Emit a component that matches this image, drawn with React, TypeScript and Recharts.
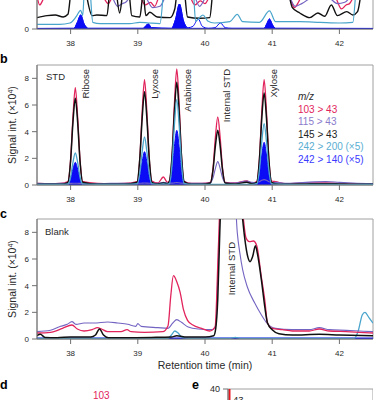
import React from 'react'
import { ComposedChart, Line, Area, Bar, XAxis, YAxis, ReferenceArea } from 'recharts'

const FONT = '"Liberation Sans", Arial, Helvetica, sans-serif'
const RED = '#e2245c'
const PURPLE = '#7464c2'
const BLACK = '#111111'
const LIGHT_BLUE = '#4aa5cc'
const BLUE = '#0b0bf5'
const INK = '#2a2a2a'
const AXIS = '#707070'
const FRAME = '#a0a0a0'

// retention time axis (min)
const timeTicks = [38, 39, 40, 41, 42]
const signalTicks = [0, 2, 4, 6, 8]

const legendTitle = 'm/z'
const legendLabels = ['103 > 43', '115 > 43', '145 > 43', '242 > 200 (×5)', '242 > 140 (×5)']
const legendColors = [RED, '#8a7ccc', '#222222', '#5aaed2', '#3b3bff']

const peakNames = ['Ribose', 'Lyxose', 'Arabinose', 'Internal STD', 'Xylose']

// ---- panel a (sample, only the foot of the traces is visible) : [time, signal x10^4]
const aBlack = [[37.5,0.85],[37.65,1.0],[37.77,1.05],[37.89,0.9],[37.96,1.1],[38.02,3.2],[38.18,3.4],[38.32,1.0],[38.39,1.05],[38.54,1.0],[38.59,3.0],[38.66,3.2],[38.73,1.2],[38.79,3.0],[38.86,3.0],[38.91,1.0],[39.03,0.9],[39.08,2.6],[39.12,1.0],[39.18,1.25],[39.29,0.9],[39.48,0.85],[39.55,1.5],[39.6,3.2],[39.68,3.2],[39.74,0.9],[39.92,0.8],[40.07,0.85],[40.13,3.2],[41.2,3.4],[41.3,1.6],[41.41,1.2],[41.56,0.85],[41.68,1.2],[41.78,0.95],[41.88,1.8],[41.97,1.0],[42.11,1.3],[42.2,1.05],[42.27,1.3],[42.35,3.2],[42.5,3.4]]
const aRed = [[37.5,2.5],[37.54,1.8],[37.6,2.3],[37.7,3.0],[38.45,3.0],[38.51,2.2],[38.56,1.9],[38.62,2.4],[38.7,3.0],[38.98,3.0],[39.04,2.4],[39.11,1.8],[39.19,2.0],[39.25,1.7],[39.32,2.5],[39.38,3.0],[39.72,3.0],[39.78,2.4],[39.85,1.8],[39.93,2.1],[40.0,1.9],[40.07,2.5],[40.12,3.0],[41.2,3.0],[41.26,2.4],[41.33,1.6],[41.39,2.0],[41.45,2.6],[41.55,3.0],[41.88,2.9],[41.95,2.3],[42.03,1.5],[42.1,1.8],[42.15,1.9],[42.22,2.5],[42.3,3.0],[42.5,2.6]]
const aPurple = [[37.5,2.6],[37.6,3.0],[38.55,3.0],[38.61,2.5],[38.7,1.7],[38.77,1.9],[38.82,2.0],[38.91,2.6],[38.98,3.0],[39.08,2.8],[39.14,2.2],[39.22,1.6],[39.33,1.7],[39.42,2.5],[39.5,3.0],[39.8,3.0],[39.85,2.4],[39.92,1.7],[40.01,2.4],[40.08,3.0],[41.2,3.0],[41.26,2.4],[41.34,1.7],[41.44,1.9],[41.56,2.3],[41.7,2.8],[41.86,2.3],[41.97,1.9],[42.08,2.0],[42.18,2.5],[42.3,3.0],[42.5,2.6]]
const aLightBlue = [[37.5,0.35],[37.84,0.35],[37.99,0.45],[38.08,0.9],[38.15,1.4],[38.18,1.0],[38.21,3.2],[38.28,3.2],[38.33,0.5],[38.44,0.4],[38.88,0.4],[39.03,0.5],[39.16,0.45],[39.33,0.4],[39.4,3.2],[39.82,3.2],[39.86,0.6],[39.97,1.05],[40.04,0.6],[40.14,0.45],[40.37,0.55],[40.48,1.1],[40.56,0.55],[40.81,0.5],[40.96,1.35],[41.05,0.55],[41.41,0.55],[41.71,0.5],[42.0,0.45],[42.2,0.5],[42.26,3.2],[42.5,3.2]]
const aBlue = [[37.5,0.04],[38.05,0.05],[38.1,0.5],[38.15,1.05],[38.2,0.4],[38.26,0.05],[39.08,0.05],[39.13,0.3],[39.16,0.37],[39.2,0.1],[39.5,0.05],[39.56,0.7],[39.62,1.87],[39.68,0.6],[39.75,0.1],[39.82,0.2],[39.9,0.75],[39.96,0.2],[40.05,0.05],[40.15,0.1],[40.23,0.45],[40.3,0.1],[40.4,0.05],[40.88,0.05],[40.92,0.4],[40.96,0.75],[41.0,0.35],[41.05,0.05],[42.5,0.04]]
// shaded (integrated) part of the 242 > 140 trace
const aBlueFill = [[37.5,0.04],[38.05,0.05],[38.1,0.5],[38.15,1.05],[38.2,0.4],[38.26,0.05],[39.08,0.05],[39.13,0.3],[39.16,0.37],[39.2,0.1],[39.5,0.05],[39.56,0.7],[39.62,1.87],[39.68,0.6],[39.75,0.05],[40.88,0.05],[40.92,0.4],[40.96,0.75],[41.0,0.35],[41.05,0.05],[42.5,0.04]]

// ---- panel b (standards), shared time grid
const bTimes = [37.5,37.7,37.85, 37.96,38.0,38.035,38.07,38.105,38.14,38.18, 38.4,38.6,38.8, 38.99,39.03,39.065,39.1,39.135,39.17,39.21, 39.3,39.38,39.44, 39.47,39.51,39.545,39.58,39.615,39.65,39.69, 39.8,39.95, 40.08,40.12,40.155,40.19,40.225,40.26,40.3, 40.45,40.62,40.7, 40.77,40.81,40.845,40.88,40.915,40.95,40.99, 41.05,41.2,41.5,41.8,42.0,42.2,42.5]
const bRed = [0.12,0.1,0.12, 0.25,1.9,5.1,7.3,5.1,1.9,0.25, 0.12,0.1,0.12, 0.25,2.0,5.5,7.9,5.5,2.0,0.3, 0.15,0.6,0.2, 0.3,2.2,6.1,8.7,6.1,2.2,0.25, 0.12,0.12, 0.2,1.3,3.6,5.1,3.6,1.3,0.2, 0.15,0.3,0.15, 0.25,2.0,5.5,7.9,5.5,2.0,0.3, 0.25,0.1,0.15,0.15,0.12,0.1,0.1]
const bPurple = [0.12,0.1,0.12, 0.12,0.12,0.13,0.13,0.13,0.12,0.12, 0.1,0.12,0.12, 0.12,0.13,0.14,0.15,0.14,0.13,0.12, 0.12,0.2,0.15, 0.13,0.14,0.16,0.18,0.16,0.14,0.13, 0.12,0.12, 0.15,0.55,1.25,1.75,1.25,0.55,0.15, 0.15,0.3,0.2, 0.18,0.25,0.35,0.4,0.35,0.25,0.18, 0.2,0.12,0.2,0.25,0.2,0.15,0.1]
const bBlack = [0.05,0.05,0.05, 0.2,1.8,4.7,6.5,4.7,1.8,0.2, 0.05,0.05,0.05, 0.2,2.0,5.0,7.0,5.0,2.0,0.2, 0.08,0.15,0.1, 0.25,2.2,5.5,7.7,5.5,2.2,0.25, 0.05,0.05, 0.15,1.15,2.95,4.1,2.95,1.15,0.15, 0.08,0.2,0.1, 0.2,1.9,5.0,6.9,5.0,1.9,0.2, 0.1,0.05,0.08,0.1,0.08,0.05,0.05]
const bLightBlue = [0.05,0.05,0.05, 0.06,0.6,1.7,2.4,1.7,0.6,0.06, 0.05,0.05,0.05, 0.08,0.9,2.5,3.6,2.5,0.9,0.08, 0.05,0.08,0.06, 0.1,1.6,4.5,6.4,4.5,1.6,0.1, 0.05,0.05, 0.05,0.05,0.05,0.05,0.05,0.05,0.05, 0.05,0.05,0.05, 0.08,1.15,3.25,4.6,3.25,1.15,0.08, 0.06,0.05,0.05,0.05,0.05,0.05,0.05]
const bBlue = [0.02,0.02,0.02, 0.03,0.42,1.2,1.7,1.2,0.42,0.03, 0.02,0.02,0.02, 0.03,0.62,1.75,2.5,1.75,0.62,0.03, 0.02,0.02,0.02, 0.05,1.0,2.9,4.1,2.9,1.0,0.05, 0.02,0.02, 0.02,0.02,0.02,0.02,0.02,0.02,0.02, 0.02,0.02,0.02, 0.04,0.8,2.25,3.2,2.25,0.8,0.04, 0.02,0.02,0.02,0.02,0.02,0.02,0.02]

// ---- panel c (blank)
const cRed = [[37.5,0.45],[37.7,0.5],[37.88,0.8],[38.02,1.05],[38.1,0.75],[38.2,0.6],[38.32,0.7],[38.4,0.85],[38.46,0.75],[38.55,0.55],[38.75,0.55],[38.84,0.7],[38.9,0.55],[39.1,0.5],[39.37,0.55],[39.45,1.0],[39.49,3.2],[39.53,4.75],[39.58,4.3],[39.63,3.5],[39.68,2.2],[39.74,1.4],[39.82,1.05],[39.95,0.8],[40.07,0.6],[40.15,0.9],[40.2,7],[40.25,13],[40.5,12],[40.56,9.5],[40.61,7.6],[40.66,7.3],[40.72,7.35],[40.77,7.0],[40.84,4.6],[40.89,2.9],[40.93,1.2],[41.0,0.8],[41.15,0.7],[41.3,0.6],[41.55,0.6],[41.7,0.75],[41.85,0.6],[42.1,0.55],[42.3,0.5],[42.5,0.45]]
const cPurple = [[37.5,0.55],[37.7,0.65],[37.85,0.95],[37.95,1.1],[38.02,1.3],[38.08,1.1],[38.2,1.2],[38.35,1.2],[38.55,1.28],[38.7,1.2],[38.85,1.1],[38.97,0.95],[39.0,1.15],[39.05,0.95],[39.3,0.85],[39.45,0.8],[39.52,1.2],[39.58,1.45],[39.65,1.25],[39.75,0.9],[39.9,0.75],[40.1,0.7],[40.16,1.0],[40.2,6],[40.25,12],[40.44,11],[40.48,8.0],[40.52,6.4],[40.56,5.2],[40.63,3.9],[40.74,2.7],[40.84,1.8],[40.92,1.2],[41.05,0.8],[41.3,0.7],[41.55,0.7],[41.7,0.85],[41.85,0.7],[42.1,0.65],[42.3,0.6],[42.5,0.55]]
const cBlack = [[37.5,0.25],[37.55,0.35],[37.62,0.12],[37.8,0.1],[38.0,0.15],[38.3,0.15],[38.37,0.3],[38.43,0.75],[38.49,0.3],[38.56,0.1],[38.8,0.1],[39.2,0.12],[39.5,0.15],[39.58,0.25],[39.7,0.15],[40.0,0.15],[40.13,0.25],[40.16,0.8],[40.19,3.0],[40.22,8.0],[40.26,13],[40.5,12],[40.55,9.5],[40.59,7.6],[40.64,6.1],[40.67,5.8],[40.71,6.2],[40.75,7.0],[40.78,6.4],[40.84,4.4],[40.89,2.4],[40.93,1.2],[41.0,0.7],[41.1,0.4],[41.3,0.3],[41.7,0.35],[42.0,0.3],[42.5,0.25]]
const cLightBlue = [[37.5,0.05],[39.45,0.05],[39.5,0.3],[39.55,0.6],[39.6,0.45],[39.66,0.1],[39.75,0.05],[40.38,0.05],[40.45,0.12],[40.52,0.05],[42.22,0.05],[42.28,0.6],[42.34,1.8],[42.38,2.0],[42.44,1.6],[42.5,1.2]]
const cBlue = [[37.5,0.06],[38.5,0.05],[39.5,0.06],[40.5,0.05],[41.5,0.06],[42.5,0.05]]

// ---- panel e (spectrum, only its top edge shows)
const eMz = [43]
const eIntensity = [100]

const pts = (pairs: number[][]) => pairs.map(([t, v]) => ({ t, v }))

const bRows = bTimes.map((t, i) => ({
  t,
  red: bRed[i],
  purple: bPurple[i],
  black: bBlack[i],
  lb: bLightBlue[i],
  blue: bBlue[i],
}))
const eRows = eMz.map((mz, i) => ({ mz, rel: eIntensity[i] }))

const tick = { fontSize: 8, fill: INK, fontFamily: FONT }
const lineProps = { type: 'monotone' as const, dot: false, activeDot: false, isAnimationActive: false }

function SignalLabel({ cy }: { cy: number }) {
  return (
    <text transform={`translate(16,${cy}) rotate(-90)`} textAnchor="middle" fontSize={10.5} fill={INK}>
      <tspan>Signal int. (×10</tspan>
      <tspan dy={-3.5} fontSize={7}>4</tspan>
      <tspan dy={3.5}>)</tspan>
    </text>
  )
}

function PeakLabel({ x, y, text }: { x: number; y: number; text: string }) {
  return (
    <text transform={`translate(${x},${y}) rotate(-90)`} textAnchor="end" fontSize={9.5} fill={INK}>
      {text}
    </text>
  )
}

const peakX = [88.5, 158, 191, 230, 277]

export default function App() {
  return (
    <div style={{ position: 'absolute', left: 0, top: 0, width: 374, height: 400, overflow: 'hidden', background: '#fff', fontFamily: FONT }}>
      {/* a */}
      <div style={{ position: 'absolute', left: 0, top: -10 }}>
        <ComposedChart width={374} height={64} data={pts(aBlueFill)} margin={{ top: 0, right: 1, bottom: 0, left: 0 }}>
          <XAxis dataKey="t" type="number" domain={[37.5, 42.5]} ticks={timeTicks} interval={0} allowDataOverflow height={25} tickSize={5} tickMargin={6} tick={tick} stroke={AXIS} />
          <YAxis type="number" domain={[0, 2.92]} ticks={[0]} interval={0} allowDataOverflow width={37} tickSize={5} tickMargin={3} tick={tick} stroke={AXIS} />
          <ReferenceArea x1={37.5} x2={42.5} y1={0} y2={2.92} fill="none" stroke={FRAME} />
          <Area dataKey="v" type="monotone" baseValue={0} stroke={BLUE} strokeWidth={1} fill={BLUE} fillOpacity={1} isAnimationActive={false} activeDot={false} />
          <Line data={pts(aBlue)} dataKey="v" stroke={BLUE} strokeWidth={1} {...lineProps} />
          <Line data={pts(aRed)} dataKey="v" stroke={RED} strokeWidth={1.3} {...lineProps} />
          <Line data={pts(aPurple)} dataKey="v" stroke={PURPLE} strokeWidth={1.2} {...lineProps} />
          <Line data={pts(aBlack)} dataKey="v" stroke={BLACK} strokeWidth={1.4} {...lineProps} />
          <Line data={pts(aLightBlue)} dataKey="v" stroke={LIGHT_BLUE} strokeWidth={1.2} {...lineProps} />
        </ComposedChart>
      </div>

      {/* b */}
      <div style={{ position: 'absolute', left: 0, top: 55 }}>
        <ComposedChart width={374} height={155} data={bRows} margin={{ top: 10, right: 1, bottom: 0, left: 0 }}>
          <XAxis dataKey="t" type="number" domain={[37.5, 42.5]} ticks={timeTicks} interval={0} allowDataOverflow height={25} tickSize={5} tickMargin={6} tick={tick} stroke={AXIS} />
          <YAxis type="number" domain={[0, 9]} ticks={signalTicks} interval={0} allowDataOverflow width={37} tickSize={5} tickMargin={3} tick={tick} stroke={AXIS} />
          <ReferenceArea x1={37.5} x2={42.5} y1={0} y2={9} fill="none" stroke={FRAME} />
          <Area dataKey="blue" type="monotone" baseValue={0} stroke={BLUE} strokeWidth={1} fill={BLUE} fillOpacity={1} isAnimationActive={false} activeDot={false} />
          <Line dataKey="red" stroke={RED} strokeWidth={1.3} {...lineProps} />
          <Line dataKey="purple" stroke={PURPLE} strokeWidth={1.1} {...lineProps} />
          <Line dataKey="black" stroke={BLACK} strokeWidth={1.5} {...lineProps} />
          <Line dataKey="lb" stroke={LIGHT_BLUE} strokeWidth={1.3} {...lineProps} />
        </ComposedChart>
      </div>

      {/* c */}
      <div style={{ position: 'absolute', left: 0, top: 209 }}>
        <ComposedChart width={374} height={165} data={pts(cBlue)} margin={{ top: 10, right: 1, bottom: 5, left: 0 }}>
          <XAxis
            dataKey="t" type="number" domain={[37.5, 42.5]} ticks={timeTicks} interval={0} allowDataOverflow height={30}
            tickSize={5} tickMargin={6} tick={tick} stroke={AXIS}
            label={{ value: 'Retention time (min)', position: 'insideBottom', offset: 0, fontSize: 10.5, fill: INK, fontFamily: FONT }}
          />
          <YAxis type="number" domain={[0, 9]} ticks={signalTicks} interval={0} allowDataOverflow width={37} tickSize={5} tickMargin={3} tick={tick} stroke={AXIS} />
          <ReferenceArea x1={37.5} x2={42.5} y1={0} y2={9} fill="none" stroke={FRAME} />
          <Area dataKey="v" type="monotone" baseValue={0} stroke={BLUE} strokeWidth={1.6} fill={BLUE} fillOpacity={1} isAnimationActive={false} activeDot={false} />
          <Line data={pts(cLightBlue)} dataKey="v" stroke={LIGHT_BLUE} strokeWidth={1.3} {...lineProps} />
          <Line data={pts(cPurple)} dataKey="v" stroke={PURPLE} strokeWidth={1.1} {...lineProps} />
          <Line data={pts(cRed)} dataKey="v" stroke={RED} strokeWidth={1.3} {...lineProps} />
          <Line data={pts(cBlack)} dataKey="v" stroke={BLACK} strokeWidth={1.5} {...lineProps} />
        </ComposedChart>
      </div>

      {/* e */}
      <div style={{ position: 'absolute', left: 188, top: 379 }}>
        <ComposedChart width={185} height={70} data={eRows} margin={{ top: 10, right: 0, bottom: 0, left: 0 }}>
          <XAxis dataKey="mz" type="number" domain={[42, 140]} hide allowDataOverflow />
          <YAxis type="number" domain={[0, 40]} ticks={[40]} interval={0} allowDataOverflow width={40} tickSize={5} tickMargin={3} tick={{ ...tick, fontSize: 9 }} stroke={AXIS} />
          <ReferenceArea x1={42} x2={140} y1={0} y2={40} fill="none" stroke={FRAME} />
          <Bar dataKey="rel" fill="#e8141e" barSize={2} isAnimationActive={false} />
        </ComposedChart>
      </div>

      {/* annotations */}
      <svg width={374} height={400} style={{ position: 'absolute', left: 0, top: 0, pointerEvents: 'none' }} fontFamily={FONT}>
        <text x={0} y={63} fontSize={12.5} fontWeight={700} fill="#000">b</text>
        <text x={0} y={218} fontSize={12.5} fontWeight={700} fill="#000">c</text>
        <text x={0} y={389} fontSize={12.5} fontWeight={700} fill="#000">d</text>
        <text x={192} y={389} fontSize={12.5} fontWeight={700} fill="#000">e</text>

        <SignalLabel cy={125} />
        <SignalLabel cy={279} />

        <text x={46} y={80} fontSize={9.5} fill={INK}>STD</text>
        <text x={45} y={235} fontSize={9.5} fill={INK}>Blank</text>

        {peakNames.map((n, i) => (
          <PeakLabel key={n} x={peakX[i]} y={69} text={n} />
        ))}
        <PeakLabel x={234.5} y={242} text="Internal STD" />

        <text x={298} y={100} fontSize={10} fontStyle="italic" fill={INK}>{legendTitle}</text>
        {legendLabels.map((l, i) => (
          <text key={l} x={298} y={112.5 + i * 12.5} fontSize={10} fill={legendColors[i]}>{l}</text>
        ))}

        <text x={93} y={399} fontSize={10} fill={RED}>103</text>
        <text x={233} y={403} fontSize={9.5} fill={INK}>43</text>
      </svg>
    </div>
  )
}
